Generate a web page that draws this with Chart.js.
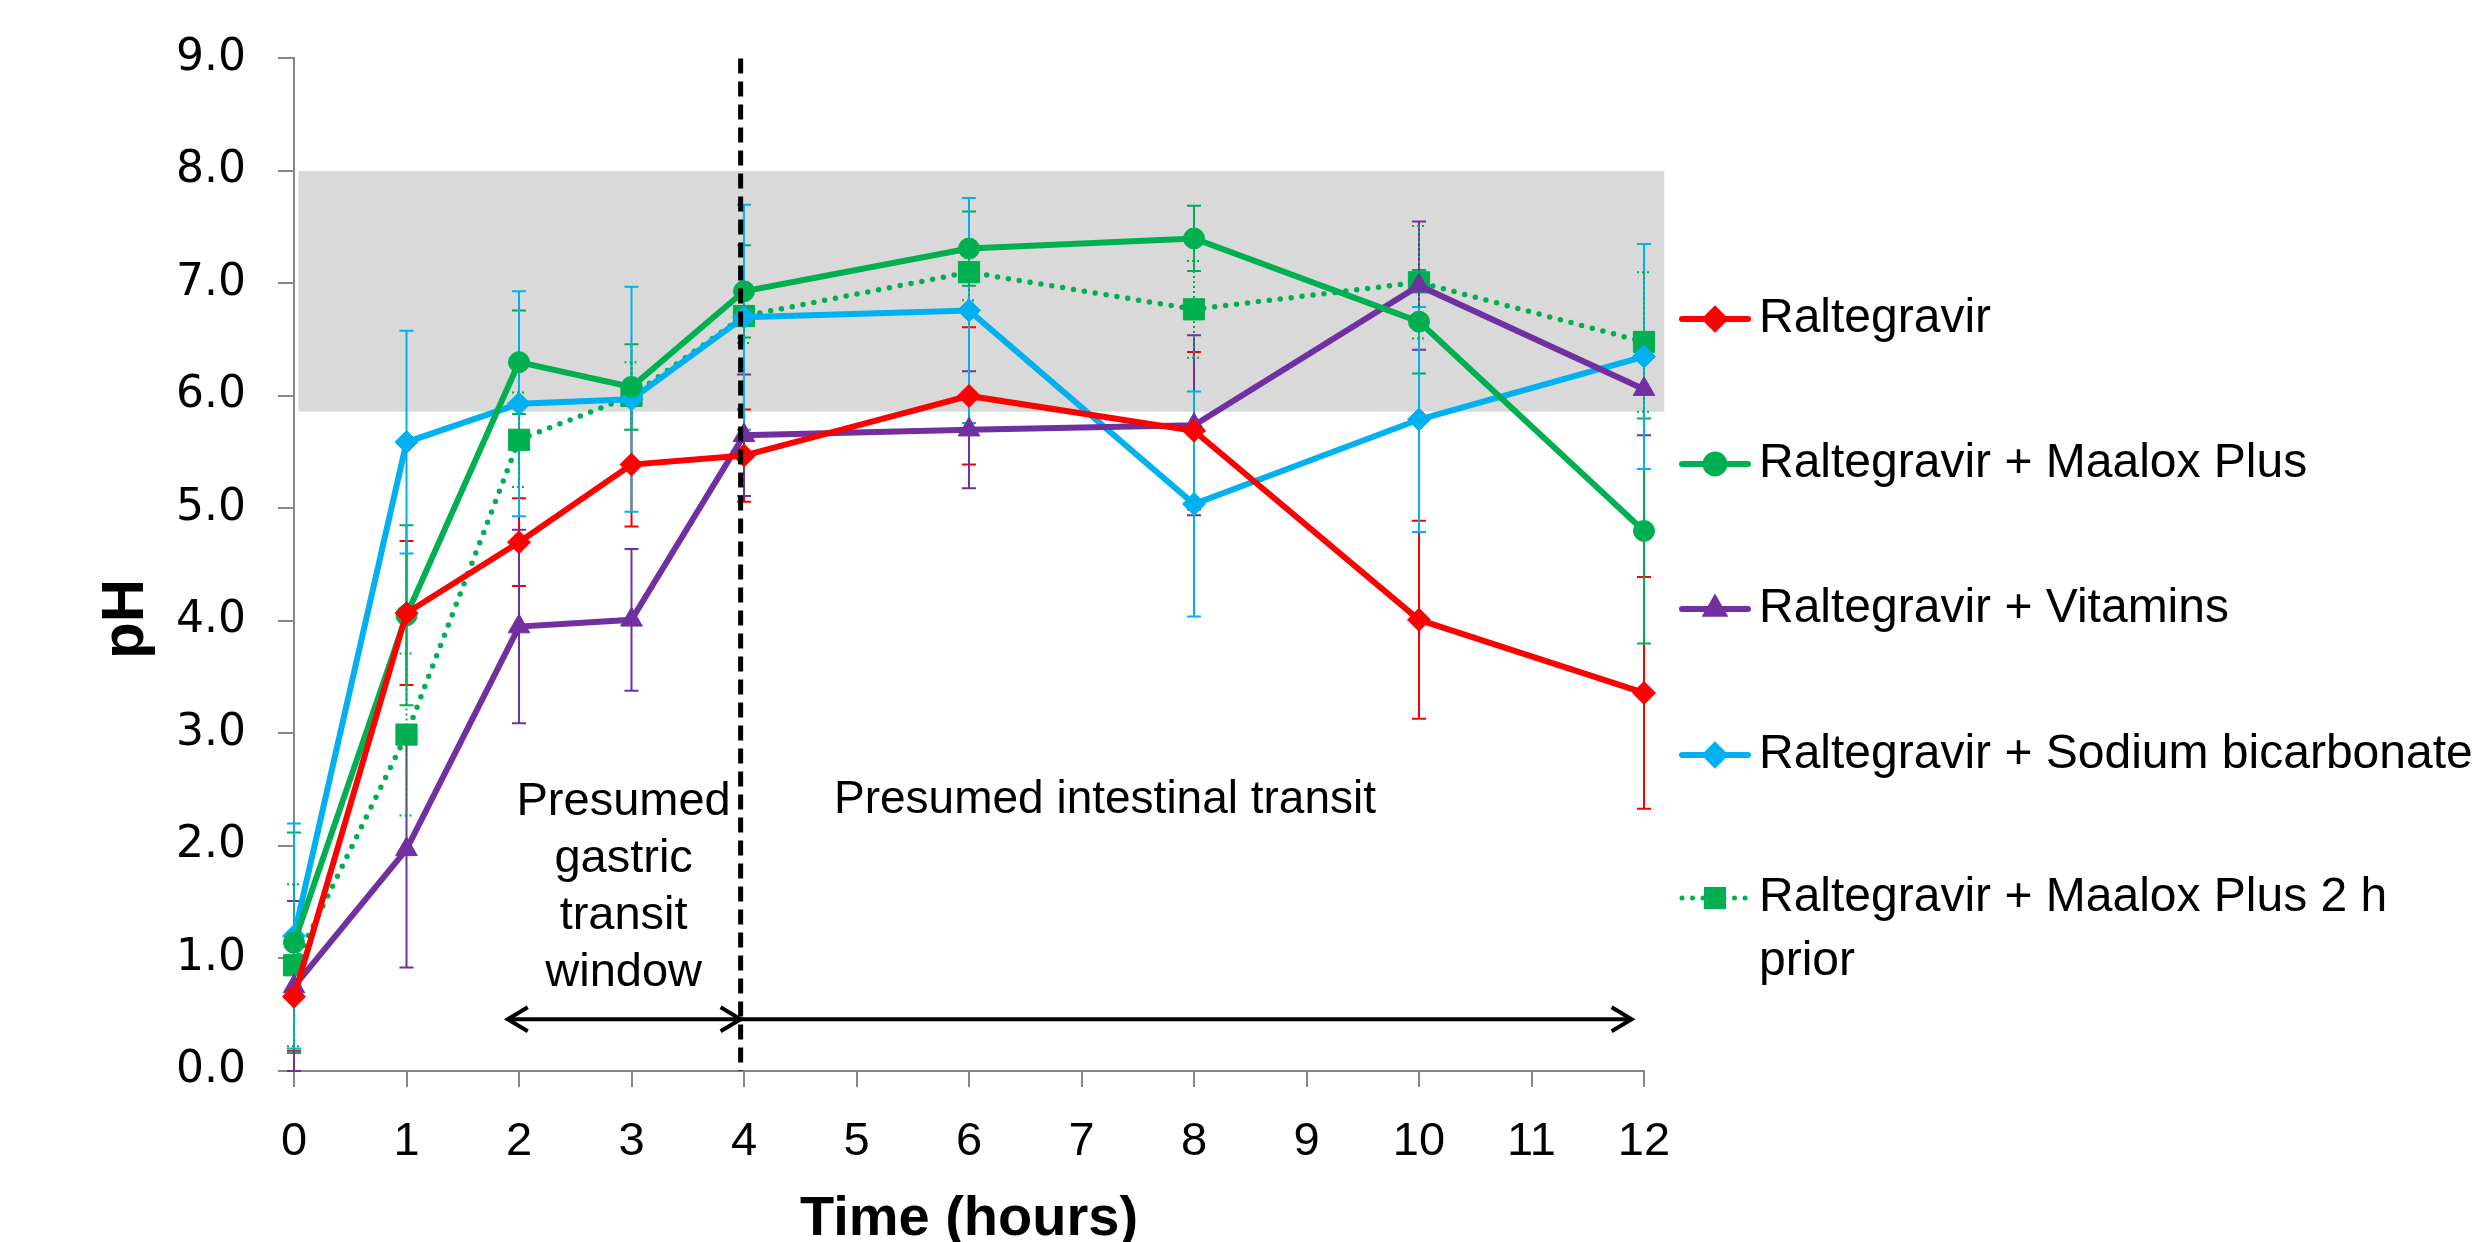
<!DOCTYPE html>
<html lang="en">
<head>
<meta charset="UTF-8">
<script src="https://cdn.jsdelivr.net/npm/chart.js"></script>
<title>Raltegravir pH over time</title>
<style>
  body { margin: 0; background: #fff; }
</style>
</head>
<body>
<canvas id="phChart" width="2476" height="1242"></canvas>
<script>
// sampling times (hours)
const times = [0, 1, 2, 3, 4, 6, 8, 10, 12];

// mean pH and error (+/-) per arm
const raltegravir    = [0.66, 4.07, 4.70, 5.39, 5.47, 6.00, 5.69, 4.01, 3.36];
const raltegravirErr = [0.48, 0.64, 0.39, 0.55, 0.41, 0.61, 0.70, 0.88, 1.03];
const maalox         = [1.14, 4.05, 6.30, 6.08, 6.93, 7.31, 7.40, 6.66, 4.80];
const maaloxErr      = [0.98, 0.80, 0.46, 0.38, 0.41, 0.33, 0.29, 0.46, 1.00];
const vitamins       = [0.75, 1.97, 3.95, 4.01, 5.65, 5.70, 5.74, 6.98, 6.06];
const vitaminsErr    = [0.76, 1.05, 0.86, 0.63, 0.54, 0.52, 0.80, 0.57, 0.41];
const bicarbonate    = [1.20, 5.59, 5.93, 5.97, 6.70, 6.76, 5.04, 5.79, 6.35];
const bicarbonateErr = [1.00, 0.99, 1.00, 1.00, 1.00, 1.00, 1.00, 1.00, 1.00];
const maaloxPrior    = [0.94, 2.99, 5.61, 6.00, 6.71, 7.10, 6.77, 7.01, 6.48];
const maaloxPriorErr = [0.72, 0.72, 0.42, 0.30, 0.24, 0.25, 0.43, 0.50, 0.62];

const seriesNames = [
    'Raltegravir',
    'Raltegravir + Maalox Plus',
    'Raltegravir + Vitamins',
    'Raltegravir + Sodium bicarbonate',
    ['Raltegravir + Maalox Plus 2 h', 'prior']
];

// shaded pH band and annotation positions (in axis units)
const band = {x0: 0.04, x1: 12.18, y0: 5.86, y1: 8.0};
const splitHour = 3.97;
const arrowY = 0.46;

function toPoints(values) {
    return values.map((v, i) => ({x: times[i], y: v}));
}

const datasets = [
    {label: seriesNames[0], data: toPoints(raltegravir), errors: raltegravirErr,
     borderColor: '#FF0000', backgroundColor: '#FF0000', pointStyle: 'rectRot', pointRadius: 11.5},
    {label: seriesNames[1], data: toPoints(maalox), errors: maaloxErr,
     borderColor: '#00B050', backgroundColor: '#00B050', pointStyle: 'circle', pointRadius: 10.5},
    {label: seriesNames[2], data: toPoints(vitamins), errors: vitaminsErr,
     borderColor: '#7030A0', backgroundColor: '#7030A0', pointStyle: 'triangle', pointRadius: 12.5},
    {label: seriesNames[3], data: toPoints(bicarbonate), errors: bicarbonateErr,
     borderColor: '#00B0F0', backgroundColor: '#00B0F0', pointStyle: 'rectRot', pointRadius: 11.5},
    {label: seriesNames[4], data: toPoints(maaloxPrior), errors: maaloxPriorErr,
     borderColor: '#00B050', backgroundColor: '#00B050', pointStyle: 'rect', pointRadius: 15,
     borderDash: [0, 11], borderCapStyle: 'round', borderWidth: 5.5, dotted: true}
];
datasets.forEach(ds => {
    ds.borderWidth = ds.borderWidth || 6;
    ds.pointBorderWidth = 1;
    ds.pointBorderColor = ds.borderColor;
    ds.clip = false;
    ds.tension = 0;
});

// gray band + error bars behind the lines
const behindPlugin = {
    id: 'behind',
    beforeDatasetsDraw(chart) {
        const {ctx, scales: {x, y}} = chart;
        ctx.save();
        ctx.fillStyle = '#D9D9D9';
        const bx = x.getPixelForValue(band.x0);
        const by = y.getPixelForValue(band.y1);
        ctx.fillRect(bx, by, x.getPixelForValue(band.x1) - bx, y.getPixelForValue(band.y0) - by);

        chart.data.datasets.forEach(ds => {
            ctx.strokeStyle = ds.borderColor;
            ctx.lineWidth = 2;
            ctx.setLineDash(ds.dotted ? [2, 3] : []);
            ds.data.forEach((p, i) => {
                const px = x.getPixelForValue(p.x);
                const top = y.getPixelForValue(p.y + ds.errors[i]);
                const bot = y.getPixelForValue(Math.max(p.y - ds.errors[i], 0));
                ctx.beginPath();
                ctx.moveTo(px, top); ctx.lineTo(px, bot);
                ctx.moveTo(px - 7, top); ctx.lineTo(px + 7, top);
                ctx.moveTo(px - 7, bot); ctx.lineTo(px + 7, bot);
                ctx.stroke();
            });
        });
        ctx.restore();
    }
};

function arrowHead(ctx, tipX, tipY, dir) {
    ctx.beginPath();
    ctx.moveTo(tipX - dir * 20, tipY - 12);
    ctx.lineTo(tipX, tipY);
    ctx.lineTo(tipX - dir * 20, tipY + 12);
    ctx.stroke();
}

// dashed divider, arrows, notes, pH title and legend
const overlayPlugin = {
    id: 'overlay',
    afterDatasetsDraw(chart) {
        const {ctx, scales: {x, y}} = chart;
        ctx.save();
        ctx.strokeStyle = '#000';
        ctx.lineWidth = 5;
        ctx.setLineDash([15, 8]);
        const sx = x.getPixelForValue(splitHour);
        ctx.beginPath();
        ctx.moveTo(sx, y.getPixelForValue(9));
        ctx.lineTo(sx, y.getPixelForValue(0));
        ctx.stroke();

        ctx.setLineDash([]);
        ctx.lineWidth = 4;
        const ay = y.getPixelForValue(arrowY);
        const a1 = x.getPixelForValue(1.9);
        const a2 = x.getPixelForValue(splitHour);
        const a3 = x.getPixelForValue(11.89);
        ctx.beginPath();
        ctx.moveTo(a1, ay); ctx.lineTo(a3, ay);
        ctx.stroke();
        arrowHead(ctx, a1, ay, -1);
        arrowHead(ctx, a2, ay, 1);
        arrowHead(ctx, a3, ay, 1);

        ctx.fillStyle = '#000';
        ctx.font = '47px "Liberation Sans"';
        ctx.textAlign = 'center';
        ctx.textBaseline = 'middle';
        ['Presumed', 'gastric', 'transit', 'window'].forEach((t, i) => {
            ctx.fillText(t, x.getPixelForValue(2.93), 802 + i * 57);
        });
        ctx.textAlign = 'left';
        ctx.font = '46px "Liberation Sans"';
        ctx.fillText('Presumed intestinal transit', x.getPixelForValue(4.8), 800);
        ctx.restore();
    },
    afterDraw(chart) {
        const {ctx} = chart;
        ctx.save();
        // y axis title
        ctx.translate(126, 619);
        ctx.rotate(-Math.PI / 2);
        ctx.font = 'bold 60px "Liberation Sans"';
        ctx.fillStyle = '#000';
        ctx.textAlign = 'center';
        ctx.textBaseline = 'middle';
        ctx.fillText('pH', 0, 0);
        ctx.restore();

        // legend
        const rows = [319, 464, 609, 755, 898];
        chart.data.datasets.forEach((ds, i) => {
            const ly = rows[i];
            ctx.save();
            ctx.strokeStyle = ds.borderColor;
            ctx.fillStyle = ds.backgroundColor;
            ctx.lineWidth = ds.dotted ? 5 : 6;
            ctx.lineCap = 'round';
            ctx.setLineDash(ds.dotted ? [0, 10.5] : []);
            ctx.beginPath();
            ctx.moveTo(1682, ly); ctx.lineTo(1748, ly);
            ctx.stroke();
            ctx.setLineDash([]);
            Chart.helpers.drawPoint(ctx, {
                pointStyle: ds.pointStyle,
                radius: ds.pointStyle === 'rect' ? 12 : 9.5,
                rotation: 0,
                borderWidth: 1
            }, 1715, ly);
            ctx.fillStyle = '#000';
            ctx.font = '48px "Liberation Sans"';
            ctx.textAlign = 'left';
            ctx.textBaseline = 'middle';
            const lines = Array.isArray(ds.label) ? ds.label : [ds.label];
            lines.forEach((t, k) => ctx.fillText(t, 1759, ly + k * 64));
            ctx.restore();
        });
    }
};

new Chart(document.getElementById('phChart'), {
    type: 'line',
    data: {datasets: datasets},
    options: {
        responsive: false,
        animation: false,
        layout: {padding: {top: 58, right: 832, left: 0, bottom: 0}},
        plugins: {
            legend: {display: false},
            tooltip: {enabled: false}
        },
        scales: {
            x: {
                type: 'linear',
                min: 0,
                max: 12,
                afterFit(scale) { scale.height = 171; },
                ticks: {
                    stepSize: 1,
                    padding: 27,
                    color: '#000',
                    font: {size: 47, family: '"Liberation Sans Narrow", "Liberation Sans"'}
                },
                grid: {drawOnChartArea: false, tickLength: 16, color: '#868686', lineWidth: 2},
                border: {color: '#868686', width: 2},
                title: {
                    display: true,
                    text: 'Time (hours)',
                    color: '#000',
                    padding: {top: 0, bottom: -6},
                    font: {size: 56, weight: 'bold', family: '"Liberation Sans"', lineHeight: 1}
                }
            },
            y: {
                min: 0,
                max: 9,
                afterFit(scale) { scale.width = 294; },
                ticks: {
                    stepSize: 1,
                    padding: 32,
                    color: '#000',
                    font: {size: 44, family: '"DejaVu Sans"'},
                    callback: v => v.toFixed(1)
                },
                grid: {drawOnChartArea: false, tickLength: 16, color: '#868686', lineWidth: 2},
                border: {color: '#868686', width: 2}
            }
        }
    },
    plugins: [behindPlugin, overlayPlugin]
});
</script>
</body>
</html>
